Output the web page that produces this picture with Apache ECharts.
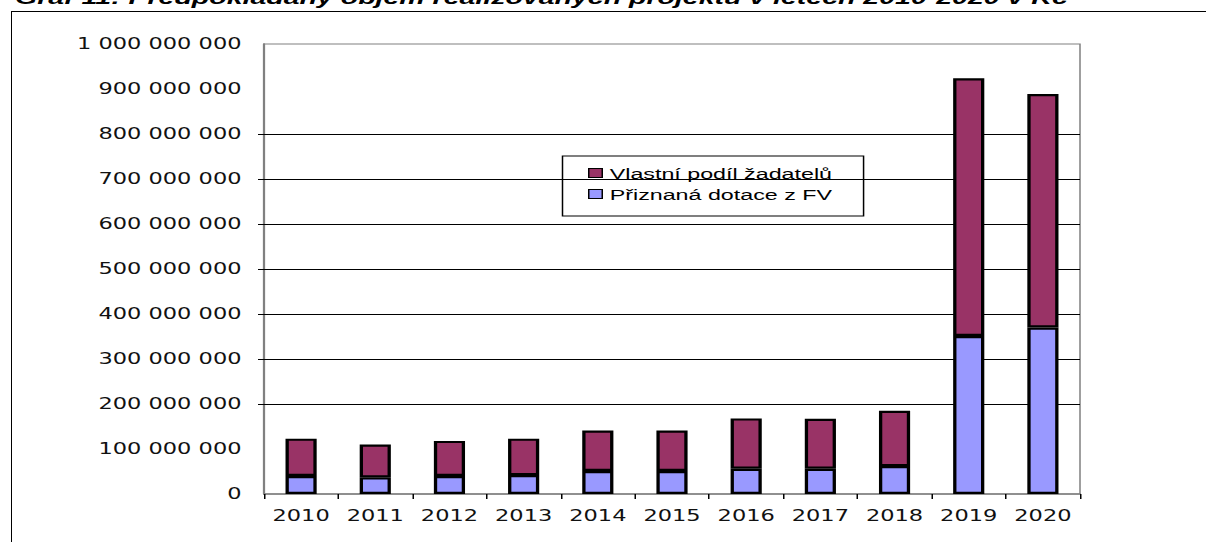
<!DOCTYPE html>
<html lang="cs">
<head>
    <meta charset="utf-8">
    <title>Graf 11</title>
    <script src="https://cdn.jsdelivr.net/npm/echarts@6/dist/echarts.min.js"></script>
    <style>
        html, body {margin: 0; padding: 0; background: #fff; overflow: hidden;}
        #frame {position: absolute; left: 11px; top: 11px; right: -5px; bottom: -5px;
                border-left: 1px solid #000; border-top: 1px solid #000;}
        /* the original picture is stretched sideways, so the chart is drawn narrow and widened */
        #main {position: absolute; left: 0; top: 0; width: 804px; height: 542px;
               transform: scaleX(1.5); transform-origin: 0 0;}
    </style>
</head>
<body>
<div id="frame"></div>
<div id="main"></div>
<script type="text/javascript">
    var years = ['2010', '2011', '2012', '2013', '2014', '2015', '2016', '2017', '2018', '2019', '2020'];
    // Přiznaná dotace z FV (spodní část sloupce)
    var dotace = [40000000, 37000000, 40000000, 42000000, 51000000, 51000000, 56000000, 56000000, 62000000, 351000000, 370000000];
    // Vlastní podíl žadatelů (horní část sloupce)
    var vlastni = [83000000, 73000000, 78000000, 81000000, 90000000, 90000000, 112000000, 111000000, 123000000, 573000000, 519000000];
    var yMax = 1000000000;
    var yStep = 100000000;
    // horizontal gridlines drawn in the source (none at 100 M and 900 M)
    var gridValues = [200000000, 300000000, 400000000, 500000000, 600000000, 700000000, 800000000];

    var titleText = 'Graf 11: Předpokládaný objem realizovaných projektů v letech 2010-2020 v Kč';
    var nameVlastni = 'Vlastní podíl žadatelů';
    var nameDotace = 'Přiznaná dotace z FV';

    function fmt(v) {
        return String(v).replace(/\B(?=(\d{3})+(?!\d))/g, ' ');
    }

    var myChart = echarts.init(document.getElementById('main'), null, {renderer: 'svg'});
    var option = {
        animation: false,
        title: {
            text: titleText,
            left: 10,
            top: -12,
            padding: 0,
            textStyle: {
                fontFamily: 'Liberation Sans',
                fontSize: 19,
                fontWeight: 'bold',
                fontStyle: 'italic',
                color: '#000'
            }
        },
        legend: {
            data: [nameVlastni, nameDotace],
            orient: 'vertical',
            left: 375,
            top: 156,
            padding: [9, 21, 14, 17],
            itemGap: 5,
            itemWidth: 9,
            itemHeight: 9,
            borderColor: '#000',
            borderWidth: 1,
            icon: 'rect',
            itemStyle: {borderColor: '#000', borderWidth: 1},
            textStyle: {fontFamily: 'Liberation Sans', fontSize: 15.5, color: '#000'}
        },
        grid: {
            left: 176,
            right: 84,
            top: 44,
            bottom: 48,
            show: true,
            borderColor: '#808080',
            borderWidth: 1
        },
        xAxis: {
            type: 'category',
            data: years,
            axisLine: {lineStyle: {color: '#808080', width: 1.5}},
            axisTick: {show: true, length: 5, lineStyle: {color: '#000'}},
            axisLabel: {
                interval: 0,
                margin: 14,
                fontFamily: 'DejaVu Sans',
                fontSize: 15,
                color: '#111'
            }
        },
        yAxis: {
            type: 'value',
            min: 0,
            max: yMax,
            interval: yStep,
            axisLine: {show: true, lineStyle: {color: '#808080', width: 1.5}},
            axisTick: {show: true, length: 4, customValues: gridValues, lineStyle: {color: '#000'}},
            axisLabel: {
                margin: 15,
                fontFamily: 'DejaVu Sans',
                fontSize: 15,
                color: '#111',
                formatter: fmt
            },
            splitLine: {show: false}
        },
        series: [
            {
                name: nameDotace,
                type: 'bar',
                stack: 'celkem',
                barWidth: '42%',
                itemStyle: {color: '#9999FF', borderColor: '#000', borderWidth: 2.2},
                markLine: {
                    silent: true,
                    symbol: 'none',
                    label: {show: false},
                    lineStyle: {color: '#000', type: 'solid', width: 1},
                    z: 1,
                    data: gridValues.map(function (v) { return {yAxis: v}; })
                },
                data: dotace
            },
            {
                name: nameVlastni,
                type: 'bar',
                stack: 'celkem',
                barWidth: '42%',
                itemStyle: {color: '#993366', borderColor: '#000', borderWidth: 2.2},
                data: vlastni
            }
        ]
    };
    myChart.setOption(option);
</script>
</body>
</html>
